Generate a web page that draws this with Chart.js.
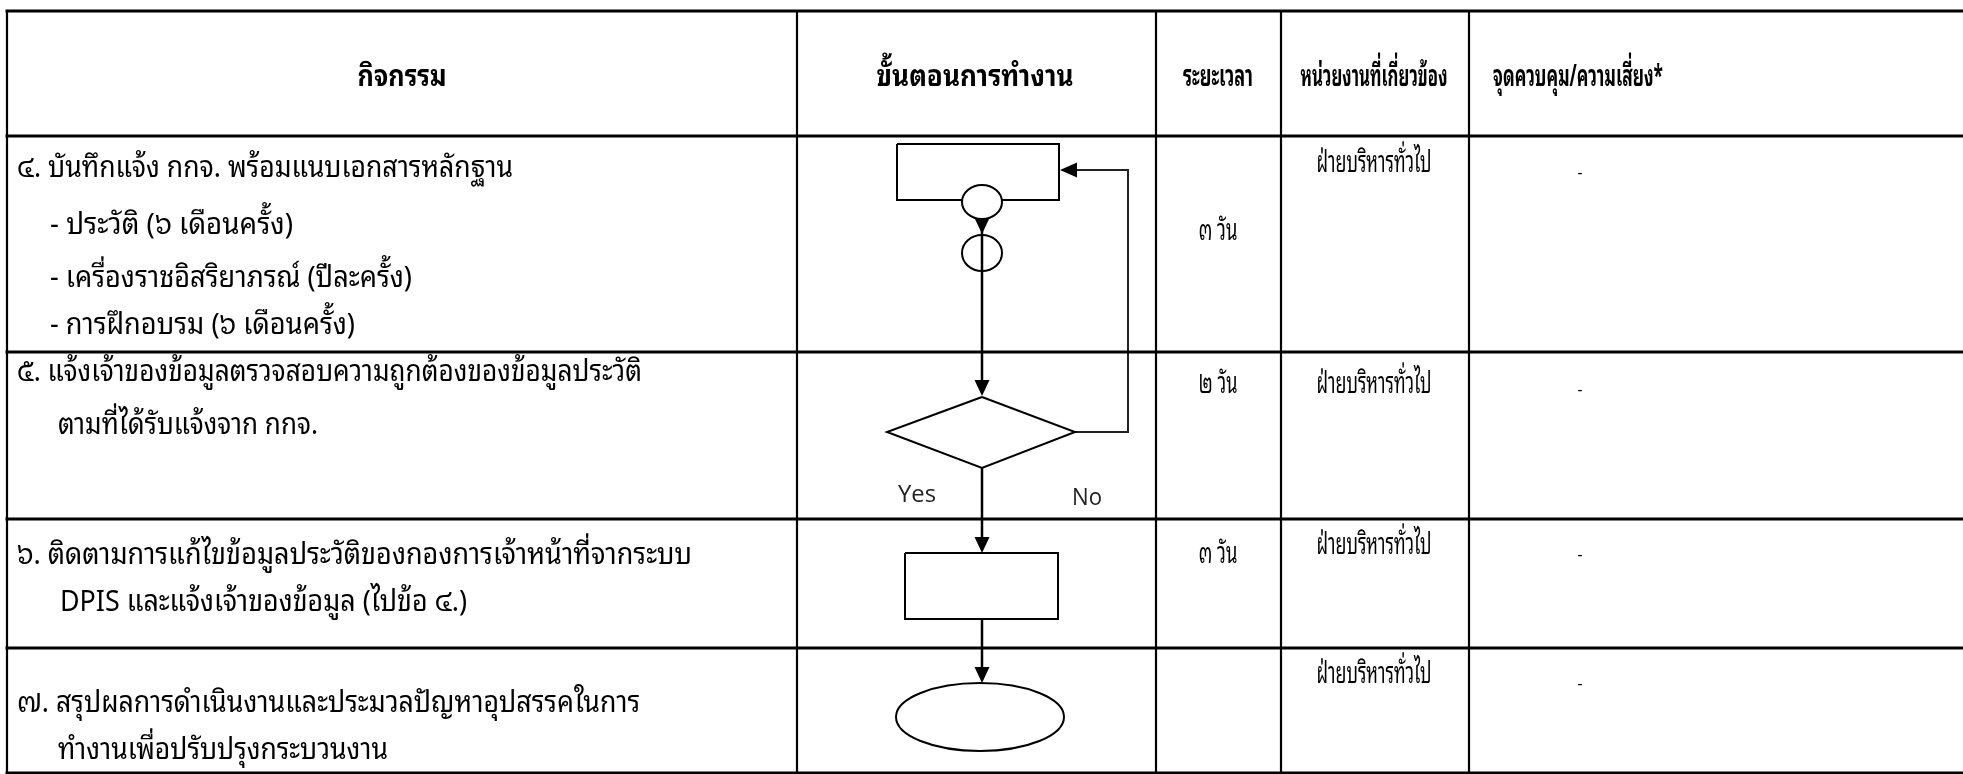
<!DOCTYPE html>
<html>
<head>
<meta charset="utf-8">
<script src="https://cdn.jsdelivr.net/npm/chart.js@4.4.1/dist/chart.umd.min.js"></script>
<style>
  html, body { margin: 0; padding: 0; background: #fff; overflow: hidden; }
  #wrap { width: 1963px; height: 774px; }
</style>
</head>
<body>
<div id="wrap"><canvas id="flow" width="1963" height="774"></canvas></div>
<script>
// ---- 표 내용 ----
const headers = ["กิจกรรม", "ขั้นตอนการทำงาน", "ระยะเวลา", "หน่วยงานที่เกี่ยวข้อง", "จุดควบคุม/ความเสี่ยง*"];
const activities = [
  ["๔. บันทึกแจ้ง กกจ. พร้อมแนบเอกสารหลักฐาน", "- ประวัติ (๖ เดือนครั้ง)", "- เครื่องราชอิสริยาภรณ์ (ปีละครั้ง)", "- การฝึกอบรม (๖ เดือนครั้ง)"],
  ["๕. แจ้งเจ้าของข้อมูลตรวจสอบความถูกต้องของข้อมูลประวัติ", "ตามที่ได้รับแจ้งจาก กกจ."],
  ["๖. ติดตามการแก้ไขข้อมูลประวัติของกองการเจ้าหน้าที่จากระบบ", "DPIS และแจ้งเจ้าของข้อมูล (ไปข้อ ๔.)"],
  ["๗. สรุปผลการดำเนินงานและประมวลปัญหาอุปสรรคในการ", "ทำงานเพื่อปรับปรุงกระบวนงาน"]
];
const durations = ["๓ วัน", "๒ วัน", "๓ วัน", ""];
const units = ["ฝ่ายบริหารทั่วไป", "ฝ่ายบริหารทั่วไป", "ฝ่ายบริหารทั่วไป", "ฝ่ายบริหารทั่วไป"];
const controls = ["-", "-", "-", "-"];
const decisionLabels = ["Yes", "No"];

// ---- 표 격자 (축 단위) ----
const colEdges = [7, 797, 1156, 1281, 1469];
const rowEdges = [11, 136, 352, 519, 648, 773];
const tableRight = 1963;

// ---- 흐름도 도형 (축 단위) ----
const boxes = [[897, 144, 1059, 200], [905, 553, 1058, 619]];          // x0, y0, x1, y1
const decision = [[982, 397], [1075, 432], [982, 468], [887, 432], [982, 397]];
const connectors = [[982, 202, 20, 17, true], [982, 253, 20, 18, false]]; // cx, cy, rx, ry, 흰 채움
const terminal = [980, 717, 84, 34];
const flowLines = [
  [[982, 219], [982, 383]],
  [[982, 468], [982, 540]],
  [[982, 619], [982, 670]]
];
const loopLine = [[1075, 432], [1128, 432], [1128, 170], [1074, 170]];
const arrowTips = [[982, 234, "down"], [982, 396, "down"], [1060, 170, "left"], [982, 553, "down"], [982, 683, "down"]];

// ---- 글자 배치 ----
const THAI = '"Noto Sans Thai Looped", "Leelawadee UI", "Loma", "Noto Sans Thai", "Garuda", "Tlwg Typo", sans-serif';
const headerBase = 86;
const headerCx = [402, 975, 1218, 1374, 1578];
const headerW = [89, 197, 70, 147, 170];
const actX = [[17, 50, 50, 50], [17, 58], [17, 60], [17, 58]];
const actBase = [[177, 234, 287, 334], [381, 434], [564, 611], [712, 759]];
const actW = [[496, 243, 362, 305], [625, 260], [675, 407], [623, 330]];
const durCx = 1218, durBase = [240, 393, 563], durW = 39;
const unitCx = 1374, unitBase = [172, 393, 554, 683], unitW = 115;
const ctrlCx = 1580, ctrlBase = [178, 395, 560, 689], ctrlW = 5;
const labelX = [898, 1072], labelBase = [502, 505], labelW = [38, 30];

const pts = (arr) => arr.map(p => ({ x: p[0], y: p[1] }));
const seg = (arr, width, color) => ({
  data: pts(arr), showLine: true, borderColor: color || "#000", borderWidth: width,
  pointRadius: 0, pointHoverRadius: 0, fill: false, tension: 0, clip: false,
  borderJoinStyle: "miter", borderCapStyle: "butt"
});

const datasets = [];
for (const y of rowEdges) datasets.push(seg([[colEdges[0] - 1.5, y], [tableRight, y]], 3));
for (const x of colEdges) datasets.push(seg([[x, rowEdges[0]], [x, rowEdges[rowEdges.length - 1]]], 2.2));
for (const b of boxes) datasets.push(seg([[b[0], b[1]], [b[2], b[1]], [b[2], b[3]], [b[0], b[3]], [b[0], b[1]]], 2));
datasets.push(seg(decision, 2));
for (const l of flowLines) datasets.push(seg(l, 2.5));
datasets.push(seg(loopLine, 2, "#222"));

// 도형/글자 그리기 (스케일 통해 변환)
const flowPlugin = {
  id: "flowPlugin",
  afterDatasetsDraw(chart) {
    const ctx = chart.ctx;
    const X = (v) => chart.scales.x.getPixelForValue(v);
    const Y = (v) => chart.scales.y.getPixelForValue(v);
    const W = (x, w) => X(x + w) - X(x);

    // 연결자 원
    for (const c of connectors) {
      ctx.beginPath();
      ctx.ellipse(X(c[0]), Y(c[1]), W(c[0], c[2]), Math.abs(Y(c[1] + c[3]) - Y(c[1])), 0, 0, Math.PI * 2);
      if (c[4]) { ctx.fillStyle = "#fff"; ctx.fill(); }
      ctx.lineWidth = 2; ctx.strokeStyle = "#000"; ctx.stroke();
    }
    // 종료 타원
    ctx.beginPath();
    ctx.ellipse(X(terminal[0]), Y(terminal[1]), W(terminal[0], terminal[2]), Math.abs(Y(terminal[1] + terminal[3]) - Y(terminal[1])), 0, 0, Math.PI * 2);
    ctx.lineWidth = 2; ctx.strokeStyle = "#000"; ctx.stroke();

    // 화살촉
    ctx.fillStyle = "#000";
    for (const a of arrowTips) {
      const tx = X(a[0]), ty = Y(a[1]);
      ctx.beginPath();
      if (a[2] === "down") {
        ctx.moveTo(tx, ty); ctx.lineTo(tx - 7.5, ty - 16); ctx.lineTo(tx + 7.5, ty - 16);
      } else {
        ctx.moveTo(tx, ty); ctx.lineTo(tx + 17, ty - 7.5); ctx.lineTo(tx + 17, ty + 7.5);
      }
      ctx.closePath(); ctx.fill();
    }

    // 글자: 측정 후 폭 맞춤
    const fit = (str, x, y, w, align) => {
      if (!str) return;
      const nat = ctx.measureText(str).width;
      const tw = W(x, w);
      const left = align === "center" ? X(x) - tw / 2 : X(x);
      ctx.save();
      ctx.translate(left, Y(y));
      ctx.scale(tw / nat, 1);
      ctx.textAlign = "left";
      ctx.textBaseline = "alphabetic";
      ctx.fillText(str, 0, 0);
      ctx.restore();
    };

    ctx.fillStyle = "#000";
    ctx.font = "bold 30px " + THAI;
    headers.forEach((h, i) => fit(h, headerCx[i], headerBase, headerW[i], "center"));

    ctx.font = "29px " + THAI;
    activities.forEach((lines, r) => lines.forEach((t, k) => fit(t, actX[r][k], actBase[r][k], actW[r][k], "left")));

    ctx.font = "30px " + THAI;
    durations.forEach((t, r) => { if (t) fit(t, durCx, durBase[r], durW, "center"); });

    ctx.font = "29px " + THAI;
    units.forEach((t, r) => fit(t, unitCx, unitBase[r], unitW, "center"));

    ctx.font = "16px " + THAI;
    controls.forEach((t, r) => fit(t, ctrlCx, ctrlBase[r], ctrlW, "center"));

    ctx.fillStyle = "#222";
    ctx.font = '24px "Open Sans", "Noto Sans", sans-serif';
    decisionLabels.forEach((t, i) => fit(t, labelX[i], labelBase[i], labelW[i], "left"));
  }
};

new Chart(document.getElementById("flow"), {
  type: "scatter",
  data: { datasets },
  options: {
    responsive: false,
    animation: false,
    events: [],
    layout: { padding: 0 },
    plugins: { legend: { display: false }, tooltip: { enabled: false } },
    scales: {
      x: { type: "linear", min: 0, max: 1963, display: false },
      y: { type: "linear", min: 0, max: 774, reverse: true, display: false }
    }
  },
  plugins: [flowPlugin]
});
</script>
</body>
</html>
